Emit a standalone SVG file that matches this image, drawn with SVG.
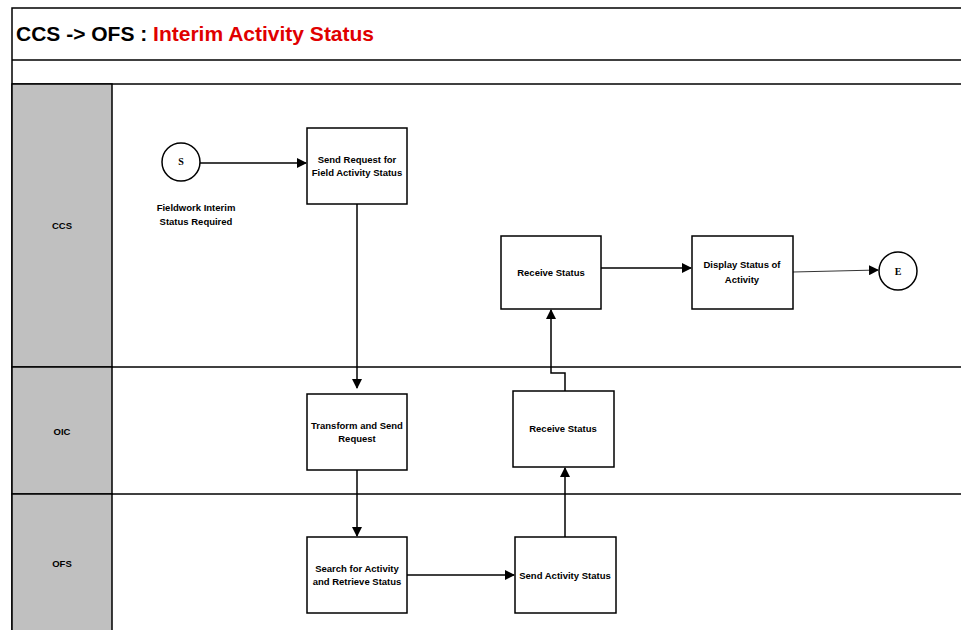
<svg xmlns="http://www.w3.org/2000/svg" width="961" height="630" viewBox="0 0 961 630">
<defs>
<style>
.frame{fill:none;stroke:#000;stroke-width:1.5}
.lane{fill:#c0c0c0;stroke:#000;stroke-width:1.5}
.box{fill:#fff;stroke:#000;stroke-width:1.5}
.t{font-family:"Liberation Sans",Arial,sans-serif;font-weight:bold;font-size:9.5px;fill:#000;text-anchor:middle}
.ser{font-family:"Liberation Serif","Times New Roman",serif;font-weight:bold;font-size:10px;text-anchor:middle}
.c{fill:none;stroke:#000;stroke-width:1.5}
</style>
<marker id="ah" markerWidth="10" markerHeight="10" refX="9" refY="5" orient="auto" markerUnits="userSpaceOnUse">
<path d="M0,0 L10,5 L0,10 Z" fill="#000"/>
</marker>
</defs>
<rect width="961" height="630" fill="#fff"/>
<g id="frame">
<rect x="12" y="8" width="960" height="640" class="frame"/>
<line x1="12" y1="60" x2="961" y2="60" class="frame"/>
<line x1="12" y1="84" x2="961" y2="84" class="frame"/>
<text x="16" y="41" font-family="Liberation Sans,Arial,sans-serif" font-size="21" font-weight="bold"><tspan fill="#000">CCS -&gt; OFS : </tspan><tspan fill="#e00000">Interim Activity Status</tspan></text>
</g>
<g id="lane-ccs">
<rect x="12" y="84" width="100" height="283" class="lane"/>
<line x1="112" y1="367" x2="961" y2="367" class="frame"/>
<text x="62" y="229" class="t">CCS</text>
</g>
<g id="lane-oic">
<rect x="12" y="367" width="100" height="127" class="lane"/>
<line x1="112" y1="494" x2="961" y2="494" class="frame"/>
<text x="62" y="435" class="t">OIC</text>
</g>
<g id="lane-ofs">
<rect x="12" y="494" width="100" height="150" class="lane"/>
<text x="62" y="567" class="t">OFS</text>
</g>
<g id="connectors">
<line x1="200" y1="163" x2="306" y2="163" class="c" marker-end="url(#ah)"/>
<line x1="357" y1="204" x2="357" y2="388" class="c" marker-end="url(#ah)"/>
<line x1="357" y1="470" x2="357" y2="536" class="c" marker-end="url(#ah)"/>
<line x1="407" y1="575" x2="514" y2="575" class="c" marker-end="url(#ah)"/>
<line x1="565" y1="537" x2="565" y2="468" class="c" marker-end="url(#ah)"/>
<polyline points="565,391 565,373 551,373 551,310" class="c" marker-end="url(#ah)"/>
<line x1="601" y1="268" x2="691" y2="268" class="c" marker-end="url(#ah)"/>
<line x1="793" y1="272" x2="878" y2="270" fill="none" stroke="#000" stroke-width="0.8" marker-end="url(#ah)"/>
</g>
<g id="start">
<circle cx="181" cy="162" r="19" class="box"/>
<text x="181" y="165" class="ser">S</text>
<text x="196" y="211" class="t">Fieldwork Interim</text>
<text x="196" y="225" class="t">Status Required</text>
</g>
<g id="send-request">
<rect x="307" y="128" width="100" height="76" class="box"/>
<text x="357" y="163" class="t">Send Request for</text>
<text x="357" y="176" class="t">Field Activity Status</text>
</g>
<g id="receive-status-ccs">
<rect x="501" y="236" width="100" height="73" class="box"/>
<text x="551" y="276" class="t">Receive Status</text>
</g>
<g id="display-status">
<rect x="692" y="236" width="101" height="73" class="box"/>
<text x="742" y="268" class="t">Display Status of</text>
<text x="742" y="283" class="t">Activity</text>
</g>
<g id="end">
<circle cx="898" cy="271" r="19" class="box"/>
<text x="898" y="275" class="ser">E</text>
</g>
<g id="transform">
<rect x="307" y="394" width="100" height="76" class="box"/>
<text x="357" y="429" class="t">Transform and Send</text>
<text x="357" y="442" class="t">Request</text>
</g>
<g id="receive-status-oic">
<rect x="513" y="391" width="101" height="76" class="box"/>
<text x="563" y="432" class="t">Receive Status</text>
</g>
<g id="search">
<rect x="307" y="537" width="100" height="76" class="box"/>
<text x="357" y="572" class="t">Search for Activity</text>
<text x="357" y="585" class="t">and Retrieve Status</text>
</g>
<g id="send-activity-status">
<rect x="515" y="537" width="101" height="76" class="box"/>
<text x="565" y="579" class="t">Send Activity Status</text>
</g>
</svg>
